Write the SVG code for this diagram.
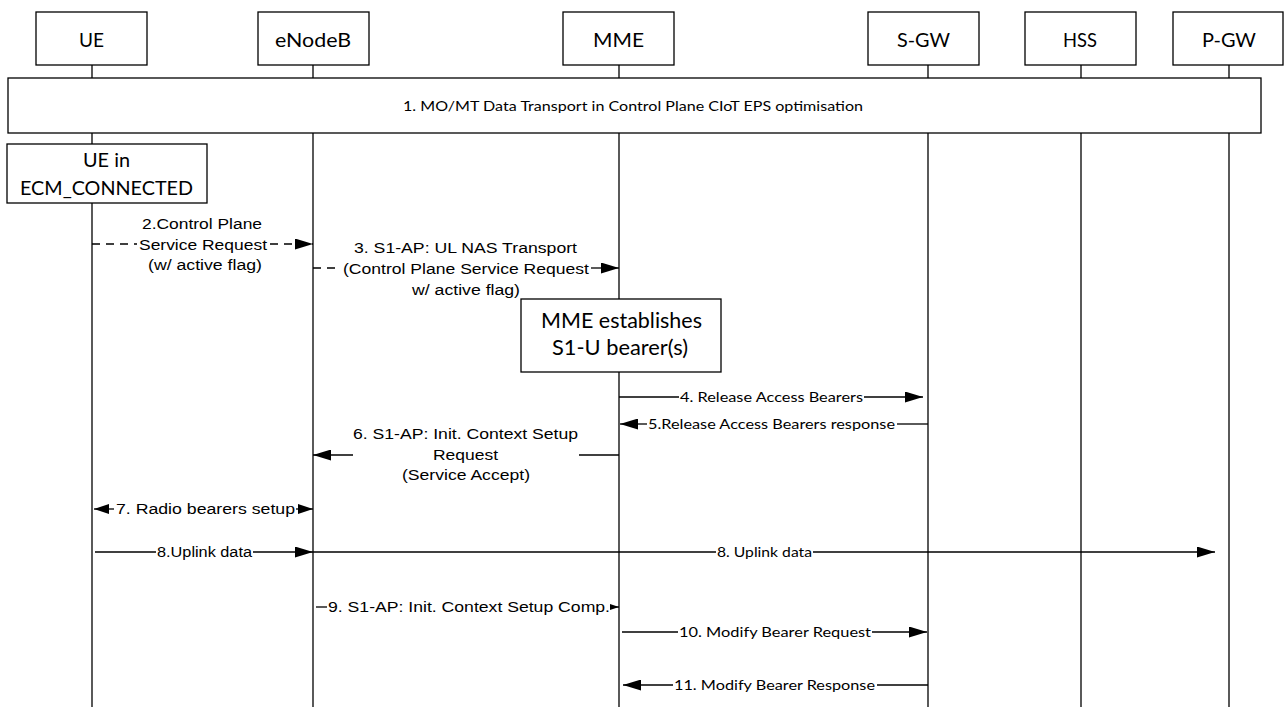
<svg xmlns="http://www.w3.org/2000/svg" width="1284" height="707" viewBox="0 0 1284 707">
<defs>
<style>
.box{fill:#fff;stroke:#000;stroke-width:1.3}
.life{stroke:#000;stroke-width:1.3;fill:none}
.ln{stroke:#000;stroke-width:1.3;fill:none}
.dash{stroke:#000;stroke-width:1.3;fill:none;stroke-dasharray:8 6}
.hdr{font-family:Lato,"Open Sans",sans-serif;font-size:20px;fill:#000}
.cal{font-family:Lato,"Open Sans",sans-serif;font-size:14px;fill:#000}
.ar{font-family:"Liberation Sans",Arial,sans-serif;font-size:15.5px;fill:#000}
</style>
<marker id="ah" markerUnits="userSpaceOnUse" markerWidth="18" markerHeight="11" refX="18" refY="5.5" orient="auto"><path d="M0,0 L18,5.5 L0,11 z" fill="#000"/></marker>
<marker id="ahs" markerUnits="userSpaceOnUse" markerWidth="15" markerHeight="10" refX="15" refY="5" orient="auto"><path d="M0,0 L15,5 L0,10 z" fill="#000"/></marker>
<marker id="ahx" markerUnits="userSpaceOnUse" markerWidth="9" markerHeight="6" refX="9" refY="3" orient="auto"><path d="M0,0 L9,3 L0,6 z" fill="#000"/></marker>
</defs>
<g id="lifelines">
<line class="life" x1="92" y1="65" x2="92" y2="707"/>
<line class="life" x1="313" y1="65" x2="313" y2="707"/>
<line class="life" x1="619" y1="65" x2="619" y2="707"/>
<line class="life" x1="928" y1="65" x2="928" y2="707"/>
<line class="life" x1="1081" y1="65" x2="1081" y2="707"/>
<line class="life" x1="1229" y1="65" x2="1229" y2="707"/>
</g>
<g id="UE"><rect class="box" x="36" y="12" width="111" height="53"/><text class="hdr" x="79" y="47" textLength="25" lengthAdjust="spacingAndGlyphs">UE</text></g>
<g id="eNodeB"><rect class="box" x="258" y="12" width="111" height="53"/><text class="hdr" x="275" y="47" textLength="76" lengthAdjust="spacingAndGlyphs">eNodeB</text></g>
<g id="MME"><rect class="box" x="563" y="12" width="111" height="53"/><text class="hdr" x="593" y="47" textLength="51" lengthAdjust="spacingAndGlyphs">MME</text></g>
<g id="SGW"><rect class="box" x="868" y="12" width="111" height="53"/><text class="hdr" x="897" y="47" textLength="53" lengthAdjust="spacingAndGlyphs">S-GW</text></g>
<g id="HSS"><rect class="box" x="1025" y="12" width="111" height="53"/><text class="hdr" x="1063" y="47" textLength="34" lengthAdjust="spacingAndGlyphs">HSS</text></g>
<g id="PGW"><rect class="box" x="1173" y="12" width="110" height="53"/><text class="hdr" x="1202" y="47" textLength="54" lengthAdjust="spacingAndGlyphs">P-GW</text></g>
<g id="step1"><rect class="box" x="8" y="78" width="1253" height="55"/><text class="cal" style="font-size:13px" x="403" y="111" textLength="460" lengthAdjust="spacingAndGlyphs">1. MO/MT Data Transport in Control Plane CIoT EPS optimisation</text></g>
<g id="ue_state"><rect class="box" x="7" y="144" width="200" height="59"/><text class="hdr" x="83" y="167" textLength="47" lengthAdjust="spacingAndGlyphs">UE in</text><text class="hdr" x="20" y="195" textLength="173" lengthAdjust="spacingAndGlyphs">ECM_CONNECTED</text></g>
<g id="mme_state"><rect class="box" x="521" y="299" width="200" height="73"/><text class="hdr" style="font-size:21px" x="541" y="328" textLength="161" lengthAdjust="spacingAndGlyphs">MME establishes</text><text class="hdr" style="font-size:21px" x="552" y="355" textLength="136" lengthAdjust="spacingAndGlyphs">S1-U bearer(s)</text></g>
<g id="connectors">
<!-- 2 -->
<line class="dash" x1="92" y1="244" x2="137" y2="244"/>
<line class="dash" x1="270" y1="244" x2="313" y2="244" marker-end="url(#ah)"/>
<text class="ar" x="142" y="229" textLength="120" lengthAdjust="spacingAndGlyphs">2.Control Plane</text>
<text class="ar" x="139" y="250" textLength="128" lengthAdjust="spacingAndGlyphs">Service Request</text>
<text class="ar" x="148" y="270" textLength="114" lengthAdjust="spacingAndGlyphs">(w/ active flag)</text>
<!-- 3 -->
<line class="dash" x1="313" y1="268" x2="341" y2="268"/>
<line class="ln" x1="591" y1="268" x2="619" y2="268" marker-end="url(#ah)"/>
<text class="ar" x="354" y="253" textLength="223" lengthAdjust="spacingAndGlyphs">3. S1-AP: UL NAS Transport</text>
<text class="ar" x="343" y="274" textLength="246" lengthAdjust="spacingAndGlyphs">(Control Plane Service Request</text>
<text class="ar" x="412" y="295" textLength="108" lengthAdjust="spacingAndGlyphs">w/ active flag)</text>
<!-- 4 -->
<line class="ln" x1="619" y1="397" x2="679" y2="397"/>
<line class="ln" x1="864" y1="397" x2="923" y2="397" marker-end="url(#ah)"/>
<text class="cal" x="680" y="402" textLength="183" lengthAdjust="spacingAndGlyphs">4. Release Access Bearers</text>
<!-- 5 -->
<line class="ln" x1="928" y1="424" x2="897" y2="424"/>
<line class="ln" x1="647" y1="424" x2="620" y2="424" marker-end="url(#ah)"/>
<text class="cal" x="648" y="429" textLength="247" lengthAdjust="spacingAndGlyphs">5.Release Access Bearers response</text>
<!-- 6 -->
<line class="ln" x1="619" y1="455" x2="579" y2="455"/>
<line class="ln" x1="353" y1="455" x2="313" y2="455" marker-end="url(#ah)"/>
<text class="ar" x="353" y="439" textLength="225" lengthAdjust="spacingAndGlyphs">6. S1-AP: Init. Context Setup</text>
<text class="ar" x="433" y="460" textLength="65" lengthAdjust="spacingAndGlyphs">Request</text>
<text class="ar" x="402" y="480" textLength="128" lengthAdjust="spacingAndGlyphs">(Service Accept)</text>
<!-- 7 -->
<line class="ln" x1="114" y1="509" x2="94" y2="509" marker-end="url(#ahs)"/>
<line class="ln" x1="296" y1="509" x2="313" y2="509" marker-end="url(#ahs)"/>
<text class="ar" x="116" y="514" textLength="179" lengthAdjust="spacingAndGlyphs">7. Radio bearers setup</text>
<!-- 8 left -->
<line class="ln" x1="95" y1="552" x2="156" y2="552"/>
<line class="ln" x1="253" y1="552" x2="313" y2="552" marker-end="url(#ah)"/>
<text class="ar" style="font-size:14px" x="157" y="557" textLength="95" lengthAdjust="spacingAndGlyphs">8.Uplink data</text>
<!-- 8 right -->
<line class="ln" x1="313" y1="552" x2="716" y2="552"/>
<line class="ln" x1="813" y1="552" x2="1215" y2="552" marker-end="url(#ah)"/>
<text class="cal" x="717" y="557" textLength="95" lengthAdjust="spacingAndGlyphs">8. Uplink data</text>
<!-- 9 -->
<line class="ln" x1="316" y1="607" x2="327" y2="607"/>
<line class="ln" x1="610" y1="607" x2="619" y2="607" marker-end="url(#ahx)"/>
<text class="ar" x="328" y="612" textLength="282" lengthAdjust="spacingAndGlyphs">9. S1-AP: Init. Context Setup Comp.</text>
<!-- 10 -->
<line class="ln" x1="622" y1="632" x2="678" y2="632"/>
<line class="ln" x1="872" y1="632" x2="927" y2="632" marker-end="url(#ah)"/>
<text class="cal" x="679" y="637" textLength="192" lengthAdjust="spacingAndGlyphs">10. Modify Bearer Request</text>
<!-- 11 -->
<line class="ln" x1="928" y1="685" x2="877" y2="685"/>
<line class="ln" x1="673" y1="685" x2="623" y2="685" marker-end="url(#ah)"/>
<text class="cal" x="674" y="690" textLength="201" lengthAdjust="spacingAndGlyphs">11. Modify Bearer Response</text>
</g>
</svg>
